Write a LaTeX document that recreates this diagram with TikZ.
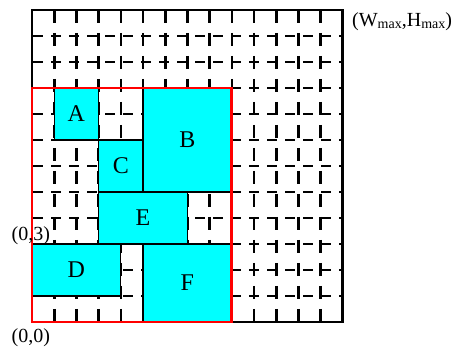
\documentclass[tikz,border=0pt]{standalone}
\usepackage{fontspec}
\setmainfont{Liberation Serif}
\definecolor{boxcyan}{RGB}{0,255,255}
\definecolor{regionred}{RGB}{255,0,0}
\begin{document}
\begin{tikzpicture}[x=1pt,y=1pt,
  gridv/.style={line width=2.6pt,dash pattern=on 13pt off 10pt},
  gridh/.style={line width=2.6pt,dash pattern=on 10pt off 8pt,dash phase=-1pt},
  blockbox/.style={fill=boxcyan,draw=black,line width=1.2pt},
  blocklabel/.style={font=\fontsize{24}{27}\selectfont,inner sep=0pt},
  coordlabel/.style={font=\fontsize{20}{24}\selectfont,inner sep=0pt},
  outer/.style={draw=black,line width=2.8pt},
  region/.style={draw=regionred,line width=2.8pt}]
\useasboundingbox (0,0) rectangle (459,347);
\begin{scope}[shift={(32,25)},x=22.2pt,y=26pt]
  \foreach \i in {1,...,13} \draw[gridv] (\i,12) -- (\i,0);
  \foreach \j in {1,...,11} \draw[gridh] (0,\j) -- (14,\j);
  \draw[blockbox] (1,7) rectangle (3,9);
  \draw[blockbox] (5,5) rectangle (9,9);
  \draw[blockbox] (3,5) rectangle (5,7);
  \draw[blockbox] (3,3) rectangle (7,5);
  \draw[blockbox] (0,1) rectangle (4,3);
  \draw[blockbox] (5,0) rectangle (9,3);
  \node[blocklabel] (A) at (2,8) {A};
  \node[blocklabel] (B) at (7,7) {B};
  \node[blocklabel] (C) at (4,6) {C};
  \node[blocklabel] (E) at (5,4) {E};
  \node[blocklabel] (D) at (2,2) {D};
  \node[blocklabel] (F) at (7,1.5) {F};
  \draw[outer] (0,0) rectangle (14,12);
  \draw[region] (0,0) rectangle (9,9);
\end{scope}
\node[coordlabel,anchor=base west] (wh) at (352,320)
  {(W\raisebox{-2pt}{\fontsize{14}{14}\selectfont max},H\raisebox{-2pt}{\fontsize{14}{14}\selectfont max})};
\node[coordlabel,anchor=base west] (o3) at (11.5,106.5) {(0,3)};
\node[coordlabel,anchor=base west] (o0) at (11.5,4) {(0,0)};
\end{tikzpicture}
\end{document}
